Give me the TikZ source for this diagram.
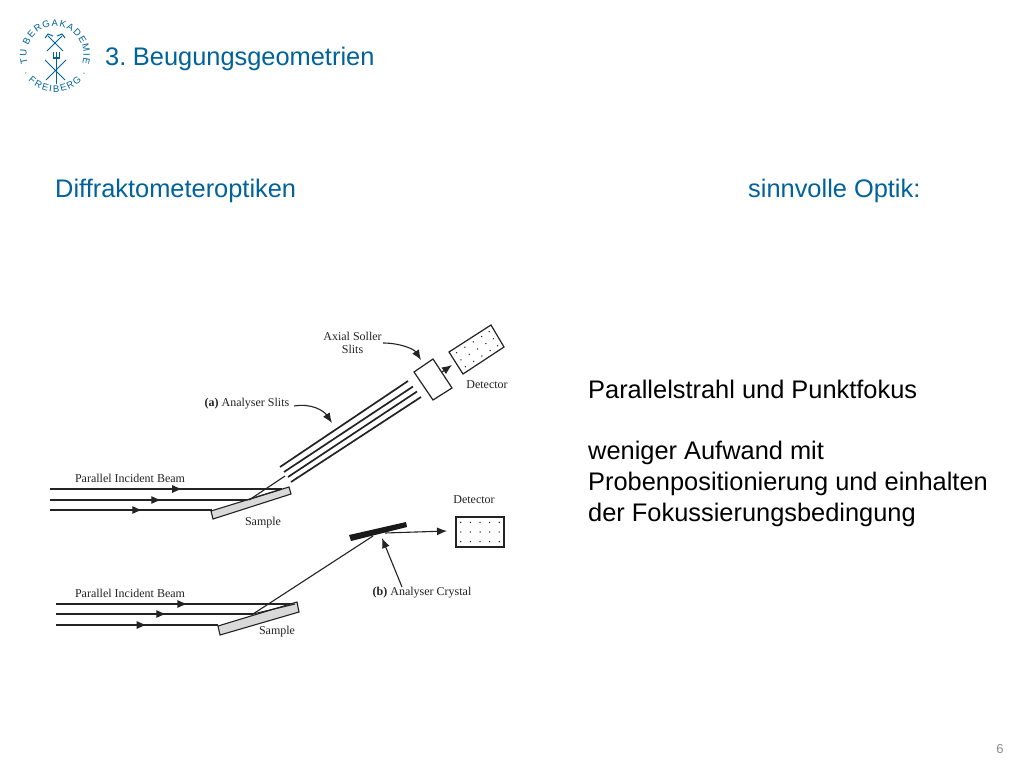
\documentclass[tikz,border=0pt]{standalone}
\usepackage{fontspec}
\setmainfont{Liberation Sans}
\newfontfamily\serifdiag{Liberation Serif}
\usetikzlibrary{calc,arrows.meta,decorations.text,decorations.markings}
\definecolor{tublue}{RGB}{0,98,155}
\definecolor{inkgrey}{RGB}{35,35,35}
\tikzset{
  x=1pt,y=-1pt,
  bluetext/.style={text=tublue,anchor=base west,inner sep=0pt,font=\fontsize{25.4}{25.4}\selectfont},
  blacktext/.style={text=black,anchor=base west,inner sep=0pt,font=\fontsize{25.4}{25.4}\selectfont},
  dlabel/.style={text=inkgrey,inner sep=0pt,font=\serifdiag\fontsize{12}{13.5}\selectfont,align=center},
  beam/.style={draw=inkgrey,line width=1.1pt},
  slit/.style={draw=inkgrey,line width=1.7pt},
  outline/.style={draw=inkgrey,line width=1.2pt,fill=white},
  samplebox/.style={draw=inkgrey,line width=1.1pt,fill=black!15},
  head/.style={-{Latex[length=10pt,width=8pt]},draw=inkgrey,line width=1.1pt},
  midhead/.style={postaction={decorate},decoration={markings,mark=at position #1 with {\arrow{Latex[length=10pt,width=8pt]}}}},
  logoline/.style={draw=tublue,line width=1pt},
  ptdot/.style={fill=inkgrey,draw=none}
}
\begin{document}
\begin{tikzpicture}
\useasboundingbox (0,0) rectangle (1024,768);
\fill[white] (0,0) rectangle (1024,768);

% logo
\coordinate (lc) at (55,55);
\path[decorate,decoration={text along path,text align={fit to path},text color=tublue,
  text={|\fontsize{9.5}{9.5}\selectfont|TU BERGAKADEMIE}}]
  (lc) ++(-197:28.5) arc[start angle=-197,end angle=17,radius=28.5];
\path[decorate,decoration={text along path,text align={fit to path},text color=tublue,
  text={|\fontsize{9.5}{9.5}\selectfont|· FREIBERG ·}}]
  (lc) ++(150:37) arc[start angle=150,end angle=30,radius=37];
\coordinate (h1a) at (48,36); \coordinate (h1b) at (63,51);
\coordinate (h2a) at (62,36); \coordinate (h2b) at (47,51);
\draw[logoline] (h1a)--(h1b) (h2a)--(h2b);
\draw[logoline] (45,38)--(48,34)--(53,36) (65,38)--(62,34)--(57,36);
\coordinate (f1) at (56,52); \coordinate (f2) at (56,84);
\draw[logoline] (f1)--(f2);
\draw[logoline] (53,52)--(53,58)--(59,58)--(59,52);
\draw[logoline] (45,60)--(65,80) (66,60)--(46,80);

% headings
\node[bluetext] (title) at (105,65.5) {3.\kern6.6pt Beugungsgeometrien};
\node[bluetext] (left) at (55,197) {Diffraktometeroptiken};
\node[bluetext] (right) at (748,197) {sinnvolle Optik:};
\node[blacktext] (t1) at (588,398) {Parallelstrahl und Punktfokus};
\node[blacktext] (t2) at (588,459) {weniger Aufwand mit};
\node[blacktext] (t3) at (588,490) {Probenpositionierung und einhalten};
\node[blacktext] (t4) at (588,521) {der Fokussierungsbedingung};
\node[text=black!45,inner sep=0pt,font=\fontsize{13}{13}\selectfont] (pg) at (1000,749) {6};

% (a) beams
\coordinate (a1s) at (50,489); \coordinate (a1e) at (282,489);
\coordinate (a2s) at (50,500); \coordinate (a2e) at (247,500);
\coordinate (a3s) at (50,510); \coordinate (a3e) at (212,510);
\draw[beam,midhead=0.57] (a1s)--(a1e);
\draw[beam,midhead=0.565] (a2s)--(a2e);
\draw[beam,midhead=0.57] (a3s)--(a3e);
% (a) sample
\coordinate (sa1) at (211,511); \coordinate (sa2) at (289,487);
\coordinate (sa3) at (291,494); \coordinate (sa4) at (213,519);
\draw[samplebox] (sa1)--(sa2)--(sa3)--(sa4)--cycle;
\draw[beam] (a1e)--(a2e);
% (a) reflected
\coordinate (ra1) at (249,500); \coordinate (ra2) at (285,476);
\draw[beam] (ra1)--(ra2);
% slits
\draw[slit] (280,467)--(408,381);
\draw[slit] (284,472)--(413,386.5);
\draw[slit] (288,477)--(417,391.5);
\draw[slit] (291,482)--(421,397);
% soller
\coordinate (so1) at (414,372); \coordinate (so2) at (433,359);
\coordinate (so3) at (452,388); \coordinate (so4) at (433,400);
\draw[outline] (so1)--(so2)--(so3)--(so4)--cycle;
% detector a
\coordinate (da1) at (449,352); \coordinate (da2) at (491,325);
\coordinate (da3) at (504,347); \coordinate (da4) at (463,374);
\draw[outline] (da1)--(da2)--(da3)--(da4)--cycle;
\foreach \u in {0.12,0.32,0.52,0.72,0.9}
  \foreach \v in {0.18,0.5,0.82}
    \fill[ptdot] ($($(da1)!\v!(da4)$)!\u!($(da2)!\v!(da3)$)$) circle[radius=0.75];
\coordinate (sda) at (442,372); \coordinate (sdb) at (452,365);
\draw[head] (sda)--(sdb);

% (b) beams
\coordinate (b1s) at (56,604); \coordinate (b1e) at (295,604);
\coordinate (b2s) at (56,614); \coordinate (b2e) at (253,614);
\coordinate (b3s) at (56,625); \coordinate (b3e) at (218,625);
\draw[beam,midhead=0.55] (b1s)--(b1e);
\draw[beam,midhead=0.56] (b2s)--(b2e);
\draw[beam,midhead=0.56] (b3s)--(b3e);
% (b) sample
\coordinate (sb1) at (218,626); \coordinate (sb2) at (297,602);
\coordinate (sb3) at (299,612); \coordinate (sb4) at (220,635);
\draw[samplebox] (sb1)--(sb2)--(sb3)--(sb4)--cycle;
\draw[beam] (b1e)--(b2e);
% crystal
\coordinate (c1) at (349,535); \coordinate (c2) at (406,522);
\coordinate (c3) at (407,527); \coordinate (c4) at (351,541);
\fill[black!90] (c1)--(c2)--(c3)--(c4)--cycle;
\coordinate (cref) at (373,536);
\draw[beam] (b2e)--(cref);
% detector b
\coordinate (db1) at (456,517); \coordinate (db2) at (504,517);
\coordinate (db3) at (504,547); \coordinate (db4) at (456,547);
\draw[outline,line width=1.4pt] (db1)--(db2)--(db3)--(db4)--cycle;
\foreach \u in {0.1,0.3,0.5,0.7,0.9}
  \foreach \v in {0.18,0.5,0.82}
    \fill[ptdot] ($($(db1)!\v!(db4)$)!\u!($(db2)!\v!(db3)$)$) circle[radius=0.75];
\coordinate (cda) at (385,533); \coordinate (cdb) at (447,531);
\draw[head] (cda)--(cdb);
\coordinate (aca) at (402,587); \coordinate (acb) at (382,538);
\draw[head] (aca)--(acb);

% curved arrows
\coordinate (asa) at (294,406); \coordinate (asb) at (332,423);
\draw[head] (asa) .. controls (312,403) and (324,411) .. (asb);
\coordinate (ssa) at (383,343); \coordinate (ssb) at (421,360);
\draw[head] (ssa) .. controls (400,343) and (414,349) .. (ssb);

% labels
\node[dlabel] (pa) at (130,478) {Parallel Incident Beam};
\node[dlabel] (pb) at (130,593) {Parallel Incident Beam};
\node[dlabel] (sal) at (263,523) {Sample};
\node[dlabel] (sbl) at (277,631.5) {Sample};
\node[dlabel] (asl) at (352.5,343) {Axial Soller\\Slits};
\node[dlabel] (dal) at (487,384.5) {Detector};
\node[dlabel] (dbl) at (474,499.5) {Detector};
\node[dlabel] (anl) at (247,403.5) {\textbf{(a)} Analyser Slits};
\node[dlabel] (crl) at (422,592.5) {\textbf{(b)} Analyser Crystal};
\end{tikzpicture}
\end{document}
